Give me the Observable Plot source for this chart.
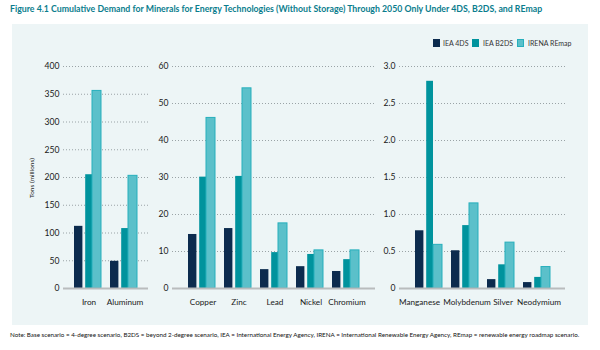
<!DOCTYPE html>
<html>
<head>
<meta charset="utf-8">
<script src="https://cdn.jsdelivr.net/npm/d3@7"></script>
<script src="https://cdn.jsdelivr.net/npm/@observablehq/plot@0.6"></script>
<style>
  html, body { margin: 0; padding: 0; background: #ffffff; }
  #root { position: relative; width: 600px; height: 350px; overflow: hidden; font-family: Lato, "Open Sans", sans-serif; }
  #bg { position: absolute; left: 12px; top: 24px; width: 576px; height: 301px; background: #edf5f6; }
  #title { position: absolute; left: 10px; top: 3px; font-size: 8.75px; font-weight: bold; color: #0a7d8d; white-space: nowrap; }
  #note { position: absolute; left: 10px; top: 331px; font-size: 6.25px; color: #111; white-space: nowrap; }
  #ytitle { position: absolute; left: 31px; top: 178px; font-size: 6.5px; color: #222; white-space: nowrap; transform: translate(-50%, -50%) rotate(-90deg); }
  .lg { position: absolute; top: 39px; height: 8px; font-size: 7px; color: #333; line-height: 8px; white-space: nowrap; }
  .sw { position: absolute; top: 39px; width: 7px; height: 8px; box-sizing: border-box; }
</style>
</head>
<body>
<div id="root">
  <div id="bg"></div>
  <div id="title">Figure 4.1 Cumulative Demand for Minerals for Energy Technologies (Without Storage) Through 2050 Only Under 4DS, B2DS, and REmap</div>
  <div id="ytitle">Tons (millions)</div>
  <div id="legend"></div>
  <div id="note">Note: Base scenario = 4-degree scenario, B2DS = beyond 2-degree scenario, IEA = International Energy Agency, IRENA = International Renewable Energy Agency, REmap = renewable energy roadmap scenario.</div>
</div>
<script>
// ---------- data ----------
const seriesNames = ["IEA 4DS", "IEA B2DS", "IRENA REmap"];
const seriesColors = ["#0c2b4e", "#00939d", "#5bc0ca"];

const minerals1 = ["Iron", "Aluminum"];
const iea4ds1 = [112, 49];
const ieaB2ds1 = [205, 108];
const irenaRemap1 = [356, 203];
const ticks1 = [0, 50, 100, 150, 200, 250, 300, 350, 400];

const minerals2 = ["Copper", "Zinc", "Lead", "Nickel", "Chromium"];
const iea4ds2 = [14.6, 16.2, 5.1, 5.9, 4.6];
const ieaB2ds2 = [30.1, 30.3, 9.7, 9.2, 7.8];
const irenaRemap2 = [46.1, 54.1, 17.6, 10.3, 10.3];
const ticks2 = [0, 10, 20, 30, 40, 50, 60];

const minerals3 = ["Manganese", "Molybdenum", "Silver", "Neodymium"];
const iea4ds3 = [0.78, 0.51, 0.12, 0.08];
const ieaB2ds3 = [2.80, 0.85, 0.32, 0.15];
const irenaRemap3 = [0.59, 1.15, 0.62, 0.29];
const ticks3 = [0, 0.5, 1.0, 1.5, 2.0, 2.5, 3.0];

// ---------- panels ----------
function makePanel(minerals, s0, s1, s2, ticks, fmt, frameLeft, frameRight, padOuter, firstLabelShift, restShift) {
  const rows = [];
  minerals.forEach((m, i) => {
    [s0, s1, s2].forEach((arr, k) => rows.push({mineral: m, series: k, key: m + "|" + k, value: arr[i]}));
  });
  const domain = [];
  minerals.forEach((m, i) => {
    domain.push(m + "|0", m + "|1", m + "|2");
    if (i < minerals.length - 1) domain.push(m + "|gap");
  });
  const labels = minerals.map(m => ({key: m + "|1", mineral: m}));
  const yMax = ticks[ticks.length - 1];
  const insets = [{insetLeft: 0, insetRight: 0.6}, {insetLeft: 2.2, insetRight: 0}, {insetLeft: 0, insetRight: 0}];
  return Plot.plot({
    width: 600,
    height: 350,
    marginLeft: frameLeft,
    marginRight: 600 - frameRight,
    marginTop: 66,
    marginBottom: 62,
    style: {background: "transparent", fontFamily: "Lato, 'Open Sans', sans-serif", fontSize: "8.6px", color: "#1a1a1a"},
    x: {type: "band", domain, paddingInner: 0, paddingOuter: padOuter, axis: null},
    y: {domain: [0, yMax], ticks, tickFormat: fmt, tickSize: 0, tickPadding: 4, label: null, nice: false},
    marks: [
      Plot.ruleY(ticks.filter(t => t > 0), {stroke: "#9aa3a6", strokeWidth: 1, strokeDasharray: "1,2"}),
      ...[0, 1, 2].map(k => Plot.barY(rows.filter(r => r.series === k), {
        x: "key", y: "value", fill: seriesColors[k],
        stroke: k === 2 ? "#27afbc" : "none", strokeWidth: k === 2 ? 1 : 0,
        ...insets[k]
      })),
      Plot.ruleY([0], {stroke: "#b9bcbd", strokeWidth: 2}),
      Plot.text(labels.slice(0, 1), {x: "key", y: () => 0, text: "mineral", dy: 14, dx: firstLabelShift, fill: "#1a1a1a", fontSize: 8.2}),
      Plot.text(labels.slice(1), {x: "key", y: () => 0, text: "mineral", dy: 14, dx: restShift, fill: "#1a1a1a", fontSize: 8.2})
    ]
  });
}

const root = document.getElementById("root");
const p1 = makePanel(minerals1, iea4ds1, ieaB2ds1, irenaRemap1, ticks1, d => String(d), 63, 148, 0.86, 1, 1);
const p2 = makePanel(minerals2, iea4ds2, ieaB2ds2, irenaRemap2, ticks2, d => String(d), 172, 375, 0.78, 1, 1);
const p3 = makePanel(minerals3, iea4ds3, ieaB2ds3, irenaRemap3, ticks3, d => d === 0 ? "0" : d.toFixed(1), 399, 565, 0.9, -9.5, 2);
[p1, p2, p3].forEach(p => { p.style.position = "absolute"; p.style.left = "0px"; p.style.top = "0px"; root.appendChild(p); });

// ---------- legend ----------
const legend = document.getElementById("legend");
const swX = [432.5, 472, 517];
const txX = [443, 483, 528];
seriesNames.forEach((name, k) => {
  const sw = document.createElement("div");
  sw.className = "sw";
  sw.style.left = swX[k] + "px";
  sw.style.background = seriesColors[k];
  if (k === 2) sw.style.border = "1px solid #27afbc";
  legend.appendChild(sw);
  const tx = document.createElement("div");
  tx.className = "lg";
  tx.style.left = txX[k] + "px";
  tx.textContent = name;
  legend.appendChild(tx);
});
</script>
</body>
</html>
